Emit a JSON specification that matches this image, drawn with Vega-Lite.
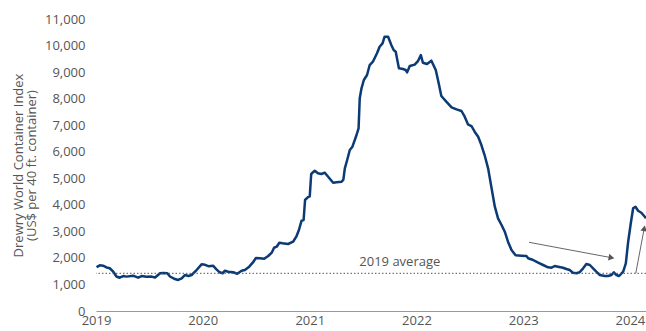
{
  "$schema": "https://vega.github.io/schema/vega-lite/v6.json",
  "width": 550,
  "height": 292,
  "autosize": {"type": "none"},
  "padding": {"left": 96, "top": 19, "right": 0, "bottom": 20},
  "background": "white",
  "config": {
    "view": {"stroke": null},
    "font": "Open Sans",
    "axis": {"labelFont": "Open Sans", "titleFont": "Open Sans", "labelColor": "#555555", "titleColor": "#555555", "grid": false, "labelOverlap": false}
  },
  "datasets": {
    "wci": [
      {"date": "2019-01-03", "value": 1650},
      {"date": "2019-01-14", "value": 1720},
      {"date": "2019-01-25", "value": 1706},
      {"date": "2019-02-06", "value": 1640},
      {"date": "2019-02-17", "value": 1610},
      {"date": "2019-03-01", "value": 1480},
      {"date": "2019-03-12", "value": 1300},
      {"date": "2019-03-23", "value": 1254},
      {"date": "2019-04-04", "value": 1318},
      {"date": "2019-04-15", "value": 1295},
      {"date": "2019-05-08", "value": 1330},
      {"date": "2019-05-25", "value": 1254},
      {"date": "2019-06-06", "value": 1318},
      {"date": "2019-06-23", "value": 1290},
      {"date": "2019-07-10", "value": 1295},
      {"date": "2019-07-22", "value": 1260},
      {"date": "2019-08-08", "value": 1420},
      {"date": "2019-08-19", "value": 1430},
      {"date": "2019-09-02", "value": 1420},
      {"date": "2019-09-11", "value": 1300},
      {"date": "2019-09-28", "value": 1205},
      {"date": "2019-10-09", "value": 1168},
      {"date": "2019-10-21", "value": 1232},
      {"date": "2019-11-01", "value": 1356},
      {"date": "2019-11-13", "value": 1318},
      {"date": "2019-11-24", "value": 1356},
      {"date": "2019-12-11", "value": 1544},
      {"date": "2019-12-28", "value": 1759},
      {"date": "2020-01-09", "value": 1740},
      {"date": "2020-01-20", "value": 1690},
      {"date": "2020-02-06", "value": 1700},
      {"date": "2020-02-17", "value": 1571},
      {"date": "2020-02-28", "value": 1458},
      {"date": "2020-03-09", "value": 1420},
      {"date": "2020-03-17", "value": 1518},
      {"date": "2020-03-28", "value": 1480},
      {"date": "2020-04-14", "value": 1460},
      {"date": "2020-04-28", "value": 1405},
      {"date": "2020-05-13", "value": 1518},
      {"date": "2020-05-24", "value": 1544},
      {"date": "2020-06-08", "value": 1669},
      {"date": "2020-06-20", "value": 1820},
      {"date": "2020-07-01", "value": 1996},
      {"date": "2020-07-15", "value": 1985},
      {"date": "2020-07-29", "value": 1970},
      {"date": "2020-08-12", "value": 2072},
      {"date": "2020-08-24", "value": 2196},
      {"date": "2020-09-01", "value": 2384},
      {"date": "2020-09-10", "value": 2422},
      {"date": "2020-09-19", "value": 2573},
      {"date": "2020-09-30", "value": 2550},
      {"date": "2020-10-19", "value": 2524},
      {"date": "2020-11-05", "value": 2610},
      {"date": "2020-11-16", "value": 2799},
      {"date": "2020-11-25", "value": 3051},
      {"date": "2020-12-04", "value": 3402},
      {"date": "2020-12-11", "value": 3428},
      {"date": "2020-12-16", "value": 4181},
      {"date": "2020-12-26", "value": 4290},
      {"date": "2021-01-01", "value": 4320},
      {"date": "2021-01-06", "value": 5161},
      {"date": "2021-01-18", "value": 5285},
      {"date": "2021-01-29", "value": 5187},
      {"date": "2021-02-10", "value": 5161},
      {"date": "2021-02-21", "value": 5210},
      {"date": "2021-03-05", "value": 5059},
      {"date": "2021-03-22", "value": 4833},
      {"date": "2021-04-03", "value": 4848},
      {"date": "2021-04-20", "value": 4871},
      {"date": "2021-04-26", "value": 4950},
      {"date": "2021-05-01", "value": 5375},
      {"date": "2021-05-09", "value": 5688},
      {"date": "2021-05-18", "value": 6065},
      {"date": "2021-05-27", "value": 6189},
      {"date": "2021-06-10", "value": 6630},
      {"date": "2021-06-17", "value": 6882},
      {"date": "2021-06-21", "value": 8012},
      {"date": "2021-06-27", "value": 8389},
      {"date": "2021-07-05", "value": 8702},
      {"date": "2021-07-16", "value": 8890},
      {"date": "2021-07-25", "value": 9267},
      {"date": "2021-08-05", "value": 9391},
      {"date": "2021-08-19", "value": 9707},
      {"date": "2021-08-28", "value": 9956},
      {"date": "2021-09-07", "value": 10081},
      {"date": "2021-09-14", "value": 10333},
      {"date": "2021-09-26", "value": 10333},
      {"date": "2021-10-07", "value": 10020},
      {"date": "2021-10-15", "value": 9832},
      {"date": "2021-10-22", "value": 9770},
      {"date": "2021-11-02", "value": 9142},
      {"date": "2021-11-16", "value": 9116},
      {"date": "2021-11-25", "value": 9078},
      {"date": "2021-11-30", "value": 8990},
      {"date": "2021-12-09", "value": 9229},
      {"date": "2021-12-26", "value": 9280},
      {"date": "2022-01-06", "value": 9410},
      {"date": "2022-01-16", "value": 9643},
      {"date": "2022-01-23", "value": 9353},
      {"date": "2022-02-06", "value": 9304},
      {"date": "2022-02-21", "value": 9430},
      {"date": "2022-03-08", "value": 9078},
      {"date": "2022-03-18", "value": 8577},
      {"date": "2022-03-27", "value": 8099},
      {"date": "2022-04-13", "value": 7885},
      {"date": "2022-05-01", "value": 7673},
      {"date": "2022-05-18", "value": 7598},
      {"date": "2022-06-04", "value": 7534},
      {"date": "2022-06-15", "value": 7320},
      {"date": "2022-06-26", "value": 7033},
      {"date": "2022-07-08", "value": 6969},
      {"date": "2022-07-19", "value": 6755},
      {"date": "2022-07-31", "value": 6567},
      {"date": "2022-08-11", "value": 6253},
      {"date": "2022-08-22", "value": 5876},
      {"date": "2022-09-03", "value": 5375},
      {"date": "2022-09-14", "value": 4682},
      {"date": "2022-09-26", "value": 3929},
      {"date": "2022-10-07", "value": 3492},
      {"date": "2022-10-19", "value": 3240},
      {"date": "2022-10-30", "value": 2987},
      {"date": "2022-11-10", "value": 2610},
      {"date": "2022-11-22", "value": 2298},
      {"date": "2022-12-06", "value": 2098},
      {"date": "2022-12-26", "value": 2084},
      {"date": "2023-01-12", "value": 2072},
      {"date": "2023-01-18", "value": 1985},
      {"date": "2023-02-04", "value": 1921},
      {"date": "2023-02-21", "value": 1820},
      {"date": "2023-03-10", "value": 1733},
      {"date": "2023-03-27", "value": 1646},
      {"date": "2023-04-08", "value": 1631},
      {"date": "2023-04-19", "value": 1695},
      {"date": "2023-04-30", "value": 1669},
      {"date": "2023-05-17", "value": 1631},
      {"date": "2023-05-29", "value": 1582},
      {"date": "2023-06-09", "value": 1544},
      {"date": "2023-06-20", "value": 1443},
      {"date": "2023-07-02", "value": 1420},
      {"date": "2023-07-13", "value": 1458},
      {"date": "2023-07-25", "value": 1608},
      {"date": "2023-08-05", "value": 1770},
      {"date": "2023-08-17", "value": 1733},
      {"date": "2023-08-28", "value": 1608},
      {"date": "2023-09-08", "value": 1480},
      {"date": "2023-09-20", "value": 1356},
      {"date": "2023-10-07", "value": 1318},
      {"date": "2023-10-18", "value": 1318},
      {"date": "2023-10-30", "value": 1356},
      {"date": "2023-11-07", "value": 1458},
      {"date": "2023-11-16", "value": 1356},
      {"date": "2023-11-25", "value": 1318},
      {"date": "2023-12-09", "value": 1480},
      {"date": "2023-12-18", "value": 1796},
      {"date": "2023-12-26", "value": 2610},
      {"date": "2024-01-04", "value": 3304},
      {"date": "2024-01-12", "value": 3869},
      {"date": "2024-01-20", "value": 3929},
      {"date": "2024-01-29", "value": 3778},
      {"date": "2024-02-09", "value": 3703},
      {"date": "2024-02-21", "value": 3552},
      {"date": "2024-02-25", "value": 3490}
    ],
    "avg": [{"value": 1420, "label": "2019 average", "date": "2021-11-05", "labelValue": 1846}],
    "arrow1": [{"date": "2023-01-21", "value": 2588, "date2": "2023-10-30", "value2": 2008}],
    "arrow2": [{"date": "2024-01-21", "value": 1420, "date2": "2024-02-19", "value2": 3115}]
  },
  "layer": [
    {
      "data": {"name": "wci"},
      "mark": {"type": "line", "color": "#0b3a75", "strokeWidth": 2.5, "strokeJoin": "round", "clip": true},
      "encoding": {
        "x": {
          "field": "date", "type": "temporal",
          "scale": {"domain": ["2019-01-01", "2024-02-25"]},
          "axis": {
            "title": null, "format": "%Y", "tickCount": {"interval": "year", "step": 1},
            "ticks": false, "domainColor": "#999999", "domainWidth": 1,
            "labelFontSize": 13, "labelPadding": 3, "labelFlush": false, "labelOverlap": false
          }
        },
        "y": {
          "field": "value", "type": "quantitative",
          "scale": {"domain": [0, 11000]},
          "axis": {
            "title": ["Drewry World Container Index", "(US$ per 40 ft. container)"],
            "titleFontSize": 13, "titleFontWeight": "normal", "titlePadding": 6, "titleLineHeight": 13,
            "values": [0, 1000, 2000, 3000, 4000, 5000, 6000, 7000, 8000, 9000, 10000, 11000],
            "tickCount": 12,
            "format": ",.0f", "domain": false, "ticks": false, "labelFontSize": 13, "labelPadding": 11, "labelOverlap": false
          }
        }
      }
    },
    {
      "data": {"name": "avg"},
      "mark": {"type": "rule", "color": "#555555", "strokeWidth": 1, "strokeDash": [1.5, 2]},
      "encoding": {
        "y": {"field": "value", "type": "quantitative"}
      }
    },
    {
      "data": {"name": "avg"},
      "mark": {"type": "text", "color": "#555555", "fontSize": 13, "font": "Open Sans", "baseline": "middle", "align": "center"},
      "encoding": {
        "x": {"field": "date", "type": "temporal"},
        "y": {"field": "labelValue", "type": "quantitative"},
        "text": {"field": "label"}
      }
    },
    {
      "data": {"name": "arrow1"},
      "mark": {"type": "rule", "color": "#666666", "strokeWidth": 1},
      "encoding": {
        "x": {"field": "date", "type": "temporal"},
        "y": {"field": "value", "type": "quantitative"},
        "x2": {"field": "date2"},
        "y2": {"field": "value2"}
      }
    },
    {
      "data": {"name": "arrow1"},
      "mark": {"type": "point", "shape": "triangle-right", "filled": true, "color": "#555555", "size": 45, "angle": 10.5, "opacity": 1},
      "encoding": {
        "x": {"field": "date2", "type": "temporal"},
        "y": {"field": "value2", "type": "quantitative"}
      }
    },
    {
      "data": {"name": "arrow2"},
      "mark": {"type": "rule", "color": "#666666", "strokeWidth": 1},
      "encoding": {
        "x": {"field": "date", "type": "temporal"},
        "y": {"field": "value", "type": "quantitative"},
        "x2": {"field": "date2"},
        "y2": {"field": "value2"}
      }
    },
    {
      "data": {"name": "arrow2"},
      "mark": {"type": "point", "shape": "triangle-up", "filled": true, "color": "#555555", "size": 45, "angle": 10.5, "opacity": 1},
      "encoding": {
        "x": {"field": "date2", "type": "temporal"},
        "y": {"field": "value2", "type": "quantitative"}
      }
    }
  ]
}
